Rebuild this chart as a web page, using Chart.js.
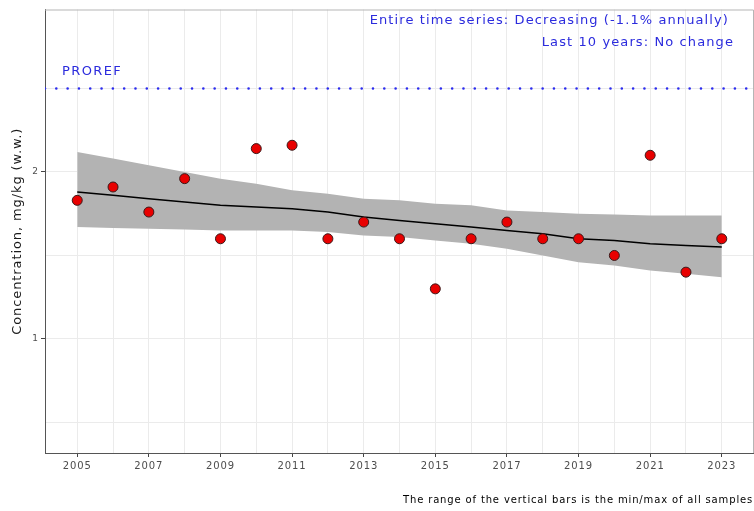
<!DOCTYPE html>
<html>
<head>
<meta charset="utf-8">
<script src="https://cdn.jsdelivr.net/npm/chart.js@4/dist/chart.umd.min.js"></script>
<style>
html,body{margin:0;padding:0;background:#fff;}
#wrap{width:754px;height:511px;position:relative;}
</style>
</head>
<body>
<div id="wrap"><canvas id="c" width="754" height="511"></canvas></div>
<script>
// ---- data ----
const years = [2005,2006,2007,2008,2009,2010,2011,2012,2013,2014,2015,2016,2017,2018,2019,2020,2021,2022,2023];
const concentration = [1.83,1.91,1.76,1.96,1.60,2.14,2.16,1.60,1.70,1.60,1.30,1.60,1.70,1.60,1.60,1.50,2.10,1.40,1.60];
const trendFit   = [1.88,1.86,1.84,1.82,1.80,1.79,1.78,1.76,1.73,1.71,1.69,1.67,1.65,1.63,1.60,1.59,1.57,1.56,1.55];
const trendUpper = [2.12,2.08,2.04,2.00,1.96,1.93,1.89,1.87,1.84,1.83,1.81,1.80,1.77,1.76,1.75,1.745,1.74,1.74,1.74];
const trendLower = [1.67,1.665,1.66,1.655,1.65,1.65,1.65,1.64,1.62,1.61,1.59,1.57,1.54,1.50,1.46,1.44,1.41,1.39,1.37];
const proref = 2.5;
const xTickYears = [2005,2006,2007,2008,2009,2010,2011,2012,2013,2014,2015,2016,2017,2018,2019,2020,2021,2022,2023];
const yTickValues = [0.5,1,1.5,2,2.5];
const yLabelled = [1,2];
const xRange = [2004.1, 2023.9];
const yRange = [0.317, 2.973];

const pts = (ys) => years.map((x,i)=>({x:x, y:ys[i]}));

const textPlugin = {
  id:'texts',
  beforeDraw(chart){
    chart.ctx.letterSpacing = '0.9px';
  },
  afterDraw(chart){
    const ctx = chart.ctx, a = chart.chartArea;
    ctx.save();
    // panel border (top/right)
    ctx.strokeStyle = '#b5b5b5';
    ctx.lineWidth = 1;
    ctx.beginPath();
    ctx.moveTo(a.left, a.top+0.5); ctx.lineTo(a.right-0.5, a.top+0.5); ctx.lineTo(a.right-0.5, a.bottom);
    ctx.stroke();
    ctx.fillStyle = '#2b2bdd';
    ctx.font = '13px "DejaVu Sans"';
    ctx.letterSpacing = '1.1px';
    ctx.textBaseline = 'middle';
    ctx.textAlign = 'right';
    ctx.fillText('Entire time series: Decreasing (-1.1% annually)', 729, 21);
    ctx.fillText('Last 10 years: No change', 734, 43);
    ctx.textAlign = 'left';
    ctx.letterSpacing = '1.4px';
    ctx.fillText('PROREF', 62, 72);
    ctx.fillStyle = '#000';
    ctx.font = '10px "DejaVu Sans"';
    ctx.letterSpacing = '0.85px';
    ctx.fillText('The range of the vertical bars is the min/max of all samples', 403, 500);
    ctx.restore();
  }
};

new Chart(document.getElementById('c'), {
  type:'scatter',
  data:{
    datasets:[
      {data:pts(trendUpper), showLine:true, borderWidth:0, borderColor:'rgba(0,0,0,0)', backgroundColor:'#b3b3b3', pointRadius:0, fill:'+1', order:5},
      {data:pts(trendLower), showLine:true, borderWidth:0, borderColor:'rgba(0,0,0,0)', pointRadius:0, fill:false, order:5},
      {data:pts(trendFit), showLine:true, borderWidth:1.5, borderColor:'#000', pointRadius:0, fill:false, order:4},
      {data:[{x:xRange[0],y:proref},{x:xRange[1],y:proref}], showLine:true, borderWidth:2.6, borderColor:'#2b2bee', borderDash:[0.01,11.3], borderCapStyle:'round', pointRadius:0, fill:false, order:3},
      {data:pts(concentration), showLine:false, pointRadius:5, pointHoverRadius:5, pointBackgroundColor:'#e80000', pointBorderColor:'#3a1a1a', pointBorderWidth:1, order:1}
    ]
  },
  options:{
    responsive:false, animation:false,
    layout:{autoPadding:false, padding:{left:0,right:0,top:9.5,bottom:0}},
    plugins:{legend:{display:false}, tooltip:{enabled:false}},
    scales:{
      x:{
        type:'linear', min:xRange[0], max:xRange[1],
        afterBuildTicks(s){ s.ticks = xTickYears.map(v=>({value:v})); },
        afterFit(s){ s.height = 58; s.paddingLeft = 0; s.paddingRight = 0; },
        grid:{color:'#ebebeb', lineWidth:1, drawTicks:true, tickLength:4,
              tickColor:(c)=> (c.tick && c.tick.value%2===1) ? '#444' : 'rgba(0,0,0,0)'},
        border:{color:'#555', width:1},
        ticks:{color:'#4d4d4d', font:{family:'DejaVu Sans', size:10}, padding:3, maxRotation:0, autoSkip:false,
               callback:(v)=> (v%2===1) ? String(v) : ''}
      },
      y:{
        type:'linear', min:yRange[0], max:yRange[1],
        afterBuildTicks(s){ s.ticks = yTickValues.map(v=>({value:v})); },
        afterFit(s){ s.width = 45; },
        grid:{color:'#ebebeb', lineWidth:1, drawTicks:true, tickLength:4,
              tickColor:(c)=> (c.tick && yLabelled.includes(c.tick.value)) ? '#444' : 'rgba(0,0,0,0)'},
        border:{color:'#555', width:1},
        ticks:{color:'#4d4d4d', font:{family:'DejaVu Sans', size:9}, padding:2, autoSkip:false,
               callback:(v)=> yLabelled.includes(v) ? String(v) : ''},
        title:{display:true, text:'Concentration, mg/kg (w.w.)', color:'#1a1a1a', font:{family:'DejaVu Sans', size:13}, padding:{top:10,bottom:0}}
      }
    }
  },
  plugins:[textPlugin]
});
</script>
</body>
</html>
